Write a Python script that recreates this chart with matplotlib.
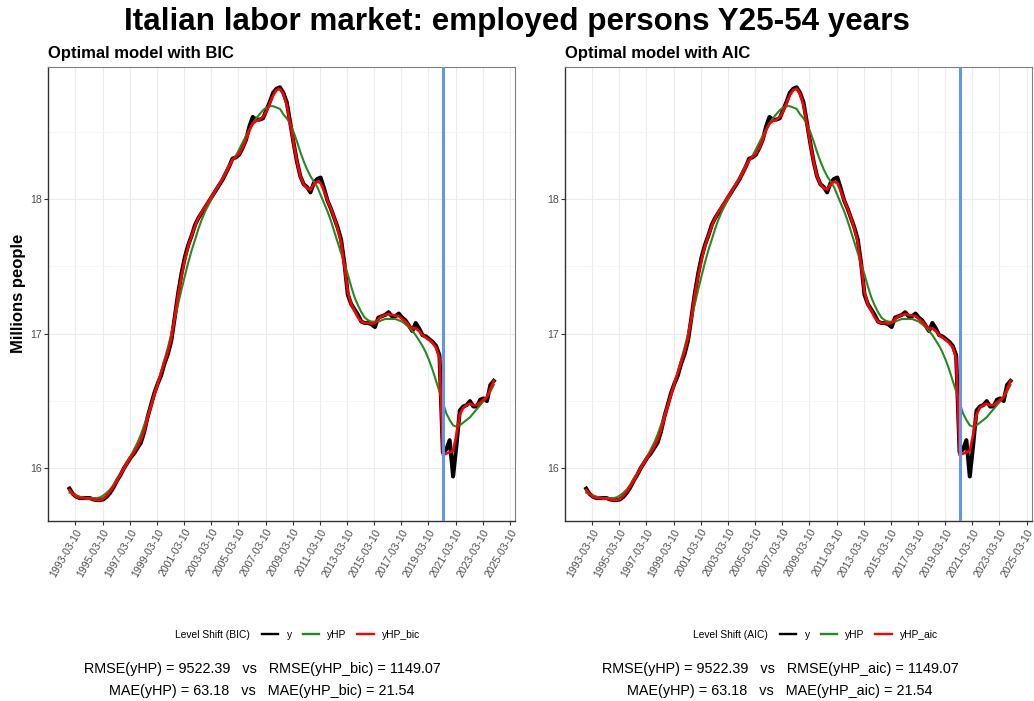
"""Italian labour market: HP trend vs level-shift adjusted trend."""

import matplotlib
matplotlib.use("Agg")
import matplotlib.dates as mdates
import matplotlib.pyplot as plt
import numpy as np
import pandas as pd
from matplotlib.lines import Line2D

plt.rcParams["font.family"] = ["Liberation Sans", "DejaVu Sans"]

# quarterly observations, 1992-Q4 .. 2024-Q1 (millions of people)
dates = pd.date_range("1992-10-01", "2024-01-01", freq="QS")

y_obs = [
    15.85,
    15.81, 15.79, 15.78, 15.78,
    15.78, 15.78, 15.77, 15.765,
    15.765, 15.77, 15.79, 15.82,
    15.86, 15.91, 15.95, 16.00,
    16.04, 16.08, 16.11, 16.15,
    16.19, 16.27, 16.38, 16.47,
    16.56, 16.63, 16.69, 16.78,
    16.85, 16.95, 17.12, 17.30,
    17.45, 17.57, 17.66, 17.73,
    17.81, 17.86, 17.90, 17.94,
    17.98, 18.02, 18.06, 18.10,
    18.14, 18.19, 18.24, 18.30,
    18.31, 18.33, 18.38, 18.44,
    18.54, 18.61, 18.59, 18.59,
    18.60, 18.66, 18.72, 18.79,
    18.82, 18.83, 18.79, 18.72,
    18.57, 18.42, 18.28, 18.17,
    18.11, 18.09, 18.05, 18.12,
    18.15, 18.16, 18.08, 17.99,
    17.93, 17.86, 17.79, 17.70,
    17.52, 17.29, 17.22, 17.18,
    17.14, 17.09, 17.08, 17.08,
    17.07, 17.05, 17.12, 17.13,
    17.14, 17.16, 17.13, 17.13,
    17.15, 17.12, 17.10, 17.06,
    17.02, 17.08, 17.04, 16.99,
    16.98, 16.96, 16.94, 16.91,
    16.84, 16.12, 16.14, 16.21,
    15.94, 16.17, 16.43, 16.46,
    16.47, 16.50, 16.46, 16.46,
    16.51, 16.52, 16.50, 16.62,
    16.65,
]

y_hp = [
    15.82,
    15.81, 15.80, 15.79, 15.785,
    15.78, 15.78, 15.78, 15.78,
    15.785, 15.80, 15.82, 15.845,
    15.88, 15.92, 15.96, 16.00,
    16.05, 16.09, 16.14, 16.19,
    16.25, 16.32, 16.39, 16.47,
    16.55, 16.63, 16.72, 16.81,
    16.90, 17.00, 17.11, 17.22,
    17.33, 17.43, 17.53, 17.62,
    17.70, 17.78, 17.85, 17.91,
    17.96, 18.01, 18.06, 18.11,
    18.15, 18.20, 18.25, 18.29,
    18.32, 18.37, 18.42, 18.47,
    18.52, 18.56, 18.60, 18.63,
    18.66, 18.68, 18.69, 18.69,
    18.68, 18.67, 18.63, 18.60,
    18.56, 18.50, 18.43, 18.35,
    18.28, 18.22, 18.17, 18.13,
    18.09, 18.03, 17.97, 17.91,
    17.84, 17.76, 17.68, 17.60,
    17.52, 17.44, 17.35, 17.27,
    17.21, 17.16, 17.12, 17.10,
    17.09, 17.09, 17.09, 17.10,
    17.11, 17.11, 17.11, 17.11,
    17.10, 17.09, 17.07, 17.05,
    17.02, 16.99, 16.95, 16.91,
    16.86, 16.80, 16.73, 16.65,
    16.57, 16.49, 16.41, 16.36,
    16.32, 16.31, 16.32, 16.34,
    16.36, 16.38, 16.41, 16.44,
    16.47, 16.50, 16.53, 16.57,
    16.62,
]

y_hp_ls = [
    15.84,
    15.81, 15.79, 15.78, 15.78,
    15.775, 15.775, 15.77, 15.765,
    15.765, 15.775, 15.80, 15.83,
    15.87, 15.91, 15.955, 16.00,
    16.04, 16.08, 16.12, 16.16,
    16.21, 16.28, 16.37, 16.46,
    16.55, 16.63, 16.71, 16.79,
    16.87, 16.97, 17.12, 17.29,
    17.43, 17.55, 17.65, 17.73,
    17.80, 17.86, 17.905, 17.945,
    17.985, 18.025, 18.065, 18.105,
    18.145, 18.19, 18.24, 18.29,
    18.315, 18.34, 18.38, 18.44,
    18.51, 18.56, 18.58, 18.59,
    18.61, 18.65, 18.71, 18.77,
    18.81, 18.82, 18.78, 18.70,
    18.56, 18.42, 18.28, 18.17,
    18.11, 18.08, 18.07, 18.11,
    18.13, 18.12, 18.06, 17.99,
    17.93, 17.86, 17.78, 17.68,
    17.50, 17.31, 17.22, 17.17,
    17.12, 17.09, 17.08, 17.08,
    17.075, 17.08, 17.11, 17.13,
    17.14, 17.145, 17.14, 17.135,
    17.13, 17.11, 17.09, 17.06,
    17.04, 17.04, 17.02, 16.99,
    16.97, 16.955, 16.93, 16.90,
    16.82, 16.10, 16.11, 16.12,
    16.13, 16.25, 16.40, 16.45,
    16.47, 16.48, 16.47, 16.47,
    16.49, 16.51, 16.53, 16.59,
    16.65,
]

break_date = "2020-04-01"
tick_labels = [
    "1993-03-10", "1995-03-10", "1997-03-10", "1999-03-10", "2001-03-10",
    "2003-03-10", "2005-03-10", "2007-03-10", "2009-03-10", "2011-03-10",
    "2013-03-10", "2015-03-10", "2017-03-10", "2019-03-10", "2021-03-10",
    "2023-03-10", "2025-03-10",
]
y_ticks = [16, 17, 18]
y_minor = [16.5, 17.5, 18.5]

panels = [
    {"crit": "BIC", "model": "yHP_bic", "rmse": (9522.39, 1149.07), "mae": (63.18, 21.54)},
    {"crit": "AIC", "model": "yHP_aic", "rmse": (9522.39, 1149.07), "mae": (63.18, 21.54)},
]

FIG_W, FIG_H = 1034, 701


def _px_box(left, top, right, bottom):
    """Convert a pixel box to figure fractions for add_axes."""
    return [left / FIG_W, 1 - bottom / FIG_H, (right - left) / FIG_W, (bottom - top) / FIG_H]


def _style_axes(axes, x_lim, y_lim):
    """ggplot theme_bw look."""
    axes.set_facecolor("white")
    tick_pos = mdates.date2num(pd.to_datetime(tick_labels))
    axes.set_xticks(tick_pos)
    axes.set_xticklabels(tick_labels, rotation=60, ha="right", va="top",
                         rotation_mode="anchor", fontsize=7.6, color="#4D4D4D")
    axes.set_yticks(y_ticks)
    axes.set_yticklabels([str(v) for v in y_ticks], fontsize=7.6, color="#4D4D4D")
    axes.set_yticks(y_minor, minor=True)
    axes.set_xlim(*x_lim)
    axes.set_ylim(*y_lim)
    axes.tick_params(axis="both", which="major", length=2.6, width=0.8, color="#333333", pad=2)
    axes.tick_params(axis="y", which="minor", length=0)
    axes.grid(True, which="major", color="#EBEBEB", linewidth=0.8, zorder=0)
    axes.grid(True, which="minor", axis="y", color="#F4F4F4", linewidth=0.6, zorder=0)
    axes.set_axisbelow(True)
    for side in ("left", "bottom"):
        axes.spines[side].set_color("#333333")
        axes.spines[side].set_linewidth(1.0)
    for side in ("top", "right"):
        axes.spines[side].set_color("#7F7F7F")
        axes.spines[side].set_linewidth(0.8)


def _draw_panel(figure, box, panel, x_num, x_lim, y_lim, shift_px):
    axes = figure.add_axes(_px_box(*box))
    _style_axes(axes, x_lim, y_lim)
    axes.plot(x_num, y_obs, color="black", linewidth=2.9, solid_joinstyle="round", zorder=3)
    axes.plot(x_num, y_hp, color="#228B22", linewidth=1.5, zorder=4)
    axes.plot(x_num, y_hp_ls, color="#FF0000", linewidth=1.9, zorder=5)
    axes.axvline(mdates.date2num(pd.Timestamp(break_date)), color="#6495ED", linewidth=2.2, zorder=6)
    axes.text(0.0, 1.012, f"Optimal model with {panel['crit']}", transform=axes.transAxes,
              ha="left", va="bottom", fontsize=12, fontweight="bold")

    figure.text((175 + shift_px) / FIG_W, 1 - 635 / FIG_H, f"Level Shift ({panel['crit']})",
                ha="left", va="center", fontsize=7.4)
    handles = [
        Line2D([0], [0], color="black", linewidth=1.7),
        Line2D([0], [0], color="#228B22", linewidth=1.7),
        Line2D([0], [0], color="#FF0000", linewidth=1.7),
    ]
    figure.legend(handles, ["y", "yHP", panel["model"]], loc="center left",
                  bbox_to_anchor=((262 + shift_px) / FIG_W, 1 - 635 / FIG_H),
                  ncols=3, frameon=False, fontsize=7.4, borderpad=0, borderaxespad=0,
                  handlelength=1.6, handletextpad=0.8, columnspacing=1.05)

    rmse_hp, rmse_ls = panel["rmse"]
    mae_hp, mae_ls = panel["mae"]
    centre = (262 + shift_px) / FIG_W
    figure.text(centre, 1 - 669 / FIG_H,
                f"RMSE(yHP) = {rmse_hp:.2f}   vs   RMSE({panel['model']}) = {rmse_ls:.2f}",
                ha="center", va="center", fontsize=10.4)
    figure.text(centre, 1 - 691 / FIG_H,
                f"MAE(yHP) = {mae_hp:.2f}   vs   MAE({panel['model']}) = {mae_ls:.2f}",
                ha="center", va="center", fontsize=10.4)
    return axes


def main():
    figure = plt.figure(figsize=(FIG_W / 100, FIG_H / 100), dpi=100)
    x_num = mdates.date2num(dates)
    span = x_num.max() - x_num.min()
    x_lim = (x_num.min() - 0.05 * span, x_num.max() + 0.05 * span)
    all_vals = np.concatenate([y_obs, y_hp, y_hp_ls])
    y_span = all_vals.max() - all_vals.min()
    y_lim = (all_vals.min() - 0.05 * y_span, all_vals.max() + 0.05 * y_span)

    boxes = [(48.3, 66.7, 515.0, 520.7), (565.0, 66.7, 1031.7, 520.7)]
    for index, (panel, box) in enumerate(zip(panels, boxes)):
        _draw_panel(figure, box, panel, x_num, x_lim, y_lim, shift_px=518 * index)

    figure.text(517 / FIG_W, 1 - 22 / FIG_H, "Italian labor market: employed persons Y25-54 years",
                ha="center", va="center", fontsize=22.6, fontweight="bold")
    figure.text(18.5 / FIG_W, 1 - 293 / FIG_H, "Millions people", rotation=90,
                ha="center", va="center", fontsize=12, fontweight="bold")
    figure.savefig("out.png", dpi=100)


main()
